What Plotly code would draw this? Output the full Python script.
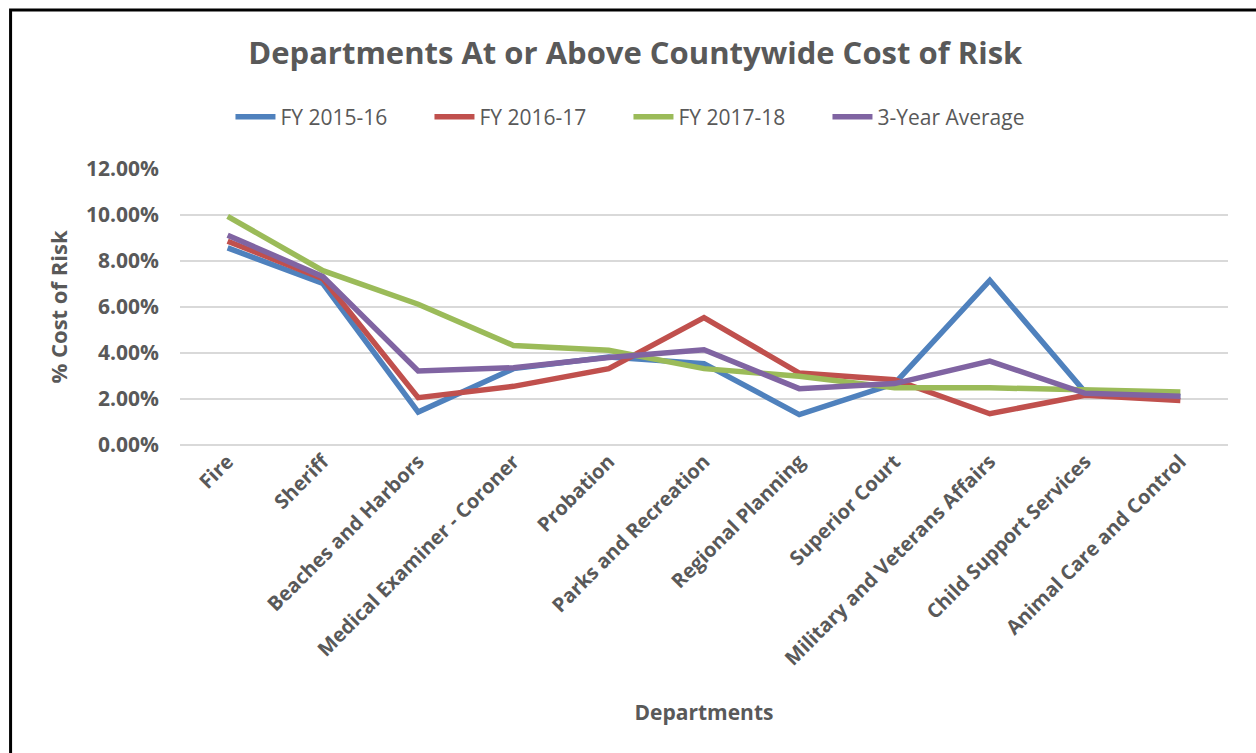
import plotly.graph_objects as go

# Departments and cost-of-risk percentages by fiscal year
departments = [
    "Fire", "Sheriff", "Beaches and Harbors", "Medical Examiner - Coroner",
    "Probation", "Parks and Recreation", "Regional Planning", "Superior Court",
    "Military and Veterans Affairs", "Child Support Services",
    "Animal Care and Control",
]
fy_2015_16 = [8.57, 7.02, 1.43, 3.32, 3.83, 3.54, 1.32, 2.67, 7.16, 2.30, 2.10]
fy_2016_17 = [8.86, 7.23, 2.06, 2.55, 3.32, 5.54, 3.13, 2.84, 1.36, 2.16, 1.94]
fy_2017_18 = [9.94, 7.58, 6.12, 4.33, 4.12, 3.32, 2.99, 2.49, 2.49, 2.41, 2.30]
avg_3yr = [9.12, 7.32, 3.22, 3.36, 3.80, 4.14, 2.45, 2.67, 3.65, 2.25, 2.12]

y_ticks = [0, 2, 4, 6, 8, 10, 12]

series = [
    ("FY 2015-16", fy_2015_16, "#4F81BD"),
    ("FY 2016-17", fy_2016_17, "#C0504D"),
    ("FY 2017-18", fy_2017_18, "#9BBB59"),
    ("3-Year Average", avg_3yr, "#8064A2"),
]

TEXT = "#595959"
FONT = "Open Sans"

fig = go.Figure()
for name, vals, color in series:
    fig.add_trace(go.Scatter(
        x=departments, y=vals, name=name, mode="lines",
        line=dict(color=color, width=5.5),
    ))

# plot-area geometry in pixels (used to place the outer frame)
W, H = 1256, 753
L, R, T, B = 179.5, 28, 169, 308
pw, ph = W - L - R, H - T - B

def px_x(x):
    return (x - L) / pw

def px_y(y):
    return (H - B - y) / ph

fig.update_layout(
    width=W, height=H,
    margin=dict(l=L, r=R, t=T, b=B),
    paper_bgcolor="white", plot_bgcolor="white",
    font=dict(family=FONT, color=TEXT),
    title=dict(
        text="<b>Departments At or Above Countywide Cost of Risk</b>",
        font=dict(size=31, color=TEXT, family=FONT),
        x=px_x(635), xref="paper", xanchor="center",
        y=1 - 53 / H, yref="container", yanchor="middle",
    ),
    legend=dict(
        orientation="h", x=px_x(230), xanchor="left",
        y=px_y(117), yanchor="middle",
        font=dict(size=21, color=TEXT, family=FONT),
        itemwidth=40, tracegroupgap=0, entrywidth=144,
    ),
    shapes=[dict(
        type="rect", xref="paper", yref="paper",
        x0=px_x(10), x1=px_x(1270), y0=px_y(10), y1=px_y(770),
        line=dict(color="black", width=3), layer="above",
    )],
)

fig.update_xaxes(
    type="category", range=[-0.5, len(departments) - 0.5],
    tickangle=-45, showgrid=False, showline=False, zeroline=False,
    tickfont=dict(size=20, color=TEXT, family=FONT, weight="bold"),
    title=dict(text="<b>Departments</b>", font=dict(size=21, color=TEXT, family=FONT),
               standoff=35),
)
fig.update_yaxes(
    range=[0, 12], tickvals=y_ticks,
    ticktext=[f"{v:.2f}%" for v in y_ticks],
    showgrid=True, gridcolor="#D9D9D9", gridwidth=1.5,
    zeroline=True, zerolinecolor="#D9D9D9", zerolinewidth=1.5,
    showline=False, ticklabelstandoff=20,
    tickfont=dict(size=21, color=TEXT, family=FONT, weight="bold"),
    title=dict(text="<b>% Cost of Risk</b>", font=dict(size=22, color=TEXT, family=FONT),
               standoff=12),
)

fig.write_html("out.html")
